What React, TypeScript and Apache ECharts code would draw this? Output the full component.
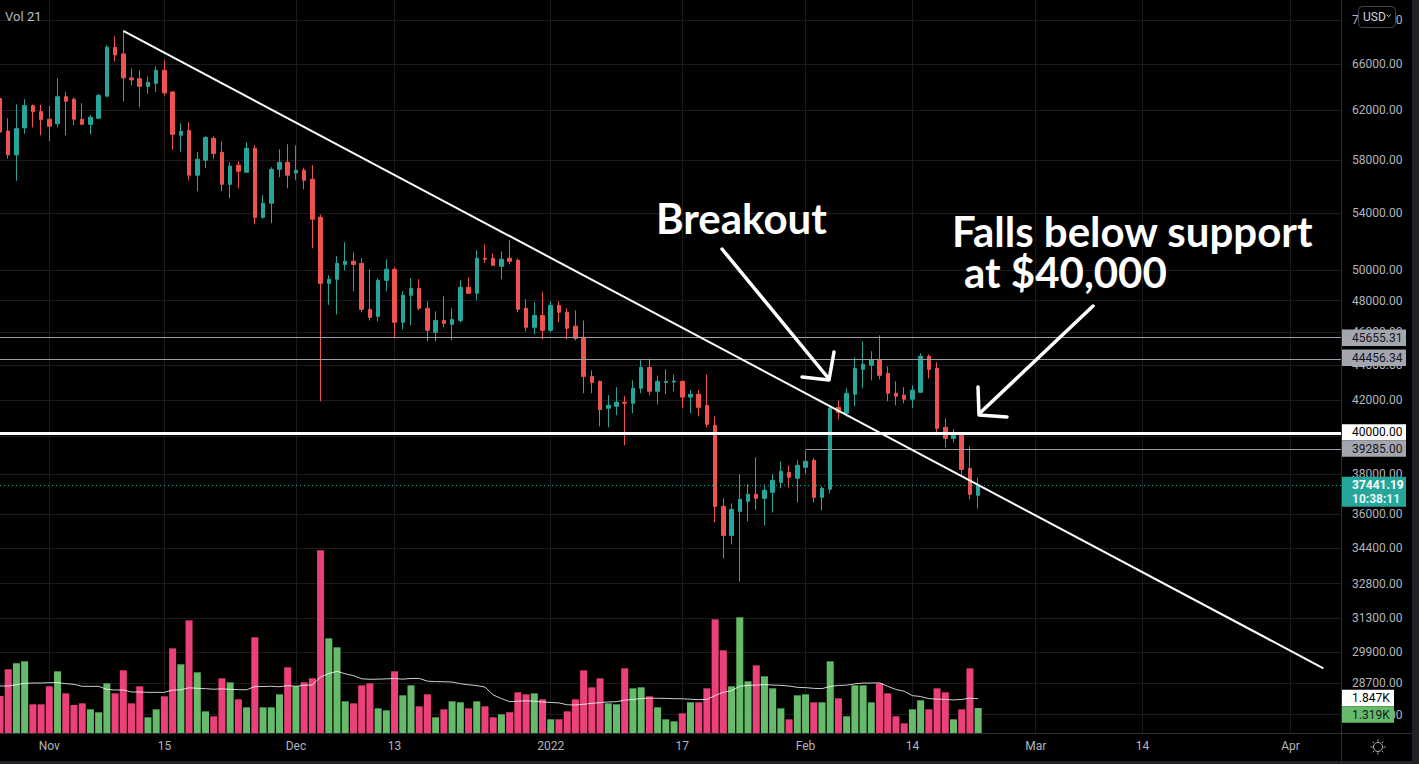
import React, { useEffect, useRef } from 'react';
import * as echarts from 'echarts';

// ---------------- DATA ----------------
const DATES = [
  '2021-10-26','2021-10-27','2021-10-28','2021-10-29','2021-10-30','2021-10-31',
  '2021-11-01','2021-11-02','2021-11-03','2021-11-04','2021-11-05','2021-11-06','2021-11-07','2021-11-08','2021-11-09','2021-11-10',
  '2021-11-11','2021-11-12','2021-11-13','2021-11-14','2021-11-15','2021-11-16','2021-11-17','2021-11-18','2021-11-19','2021-11-20',
  '2021-11-21','2021-11-22','2021-11-23','2021-11-24','2021-11-25','2021-11-26','2021-11-27','2021-11-28','2021-11-29','2021-11-30',
  '2021-12-01','2021-12-02','2021-12-03','2021-12-04','2021-12-05','2021-12-06','2021-12-07','2021-12-08','2021-12-09','2021-12-10',
  '2021-12-11','2021-12-12','2021-12-13','2021-12-14','2021-12-15','2021-12-16','2021-12-17','2021-12-18','2021-12-19','2021-12-20',
  '2021-12-21','2021-12-22','2021-12-23','2021-12-24','2021-12-25','2021-12-26','2021-12-27','2021-12-28','2021-12-29','2021-12-30','2021-12-31',
  '2022-01-01','2022-01-02','2022-01-03','2022-01-04','2022-01-05','2022-01-06','2022-01-07','2022-01-08','2022-01-09','2022-01-10',
  '2022-01-11','2022-01-12','2022-01-13','2022-01-14','2022-01-15','2022-01-16','2022-01-17','2022-01-18','2022-01-19','2022-01-20',
  '2022-01-21','2022-01-22','2022-01-23','2022-01-24','2022-01-25','2022-01-26','2022-01-27','2022-01-28','2022-01-29','2022-01-30','2022-01-31',
  '2022-02-01','2022-02-02','2022-02-03','2022-02-04','2022-02-05','2022-02-06','2022-02-07','2022-02-08','2022-02-09','2022-02-10',
  '2022-02-11','2022-02-12','2022-02-13','2022-02-14','2022-02-15','2022-02-16','2022-02-17','2022-02-18','2022-02-19','2022-02-20','2022-02-21','2022-02-22',
];

const OPEN = [
  63000,60300,58400,60560,62400,61900,
  61270,60900,63150,62940,61270,60850,61350,63200,67500,66900,
  64770,64700,64040,64300,65440,63560,59960,60360,56830,57980,
  59720,58600,56130,57600,57050,58920,53690,54720,57280,57820,
  57000,57210,56520,53700,49130,49400,50400,50610,50470,47440,
  47000,49330,50070,46620,48350,48800,47510,46000,46740,46500,
  46740,48870,48480,50820,50820,50270,50820,50680,47510,46310,47050,
  46120,47700,47250,46380,45690,43350,43060,41530,41640,41870,
  41810,42660,43880,42490,43000,43020,43060,42160,42320,41690,
  40590,36390,35000,36150,36640,36990,36790,37090,37590,38100,37800,
  38360,38720,36840,37240,41580,41250,42320,43760,44000,44350,
  43520,42380,42270,42040,42430,44540,43820,40480,39880,40050,38300,36940,
];
const CLOSE = [
  60220,58400,60500,62400,61900,61250,
  60700,63150,62770,61270,60850,61430,63250,67500,66800,64770,
  64600,64040,64390,65440,63480,60040,60280,56830,58060,59790,
  58500,56130,57520,57130,58920,53690,54720,57280,57820,56830,
  57210,56440,53560,49130,49400,50470,50610,50400,47440,46930,
  49330,50070,46620,48350,48800,47510,46120,46740,46560,46800,
  48870,48480,50820,50750,50340,50750,50610,47440,46310,47050,46120,
  47700,47250,46250,45630,43350,43000,41450,41690,41870,41810,
  42660,43880,42490,43060,43060,43080,42160,42320,41580,40640,
  36390,35000,36250,36740,36990,36790,37190,37690,38150,37850,38460,
  38670,36840,37290,41530,41300,42380,43820,44060,44350,43410,
  42380,42210,42040,42550,44540,43760,40420,39880,40050,38250,36990,37441.19,
];
const HIGH = [
  63300,61350,62500,62940,62500,62480,
  62400,64740,63560,63100,62600,61620,63400,67700,68500,69000,
  65610,65440,64900,65790,66320,63620,60940,61020,58650,59880,
  59880,59480,57820,57900,59400,59160,55310,57440,58840,59240,
  59160,57400,57600,53900,49660,50960,51920,51220,50820,50070,
  49470,50750,50200,48610,49470,49400,47960,47310,48280,47510,
  49330,49540,51360,51780,51150,51290,52060,50800,48090,47900,48550,
  47960,47960,47510,47380,46740,43700,43100,42270,42720,42210,
  43120,44300,44410,43400,43760,43460,43100,42550,42550,43460,
  41080,36790,36540,38000,37490,38880,37490,38000,38670,38460,38720,
  39240,38830,37390,41700,41980,42660,44470,45440,44840,45810,
  43940,43060,42720,42830,44720,44660,44180,40970,40370,40090,39450,37840,
];
const LOW = [
  59900,58100,56400,60100,60600,59960,
  59480,60600,59960,60780,60780,60040,61270,63150,66230,62770,
  64130,62270,63400,63560,63220,58810,58650,56440,55610,57360,
  58100,55610,55090,55830,57050,53190,53600,53260,56670,55830,
  56440,55760,51500,41920,47730,47110,50000,48610,47250,46740,
  46680,48610,45630,46190,46430,47380,45440,45440,46310,45500,
  46620,48420,48030,50500,50300,49400,50400,47250,46060,45880,45570,
  46000,46620,45570,45500,42380,42380,40530,40480,41140,39510,
  41250,42380,42270,41750,42320,42490,41530,41250,41080,40480,
  35620,33930,34580,32900,35670,36240,35480,36100,37290,37340,36590,
  38000,36590,36200,37040,40910,41080,41640,42660,43120,43170,
  41920,41700,41810,41530,42430,43230,40050,39400,39660,37940,36740,36290,
];
const VOLUME = [
  1954,3363,3680,3784,1514,1514,
  2464,3256,2094,1478,1566,1250,1091,2622,2094,3309,
  1566,2464,827,1250,1936,4470,3626,5949,3203,1144,
  880,2886,2675,1778,1355,5051,1355,1355,2042,3467,
  2464,2675,2886,9645,4998,4523,1672,1566,2516,2622,
  1302,1197,3256,1989,2516,1408,2042,827,1250,1672,
  1619,1302,1672,1408,827,985,1091,2148,2042,2094,1778,
  722,722,1144,1778,3309,2411,2886,1566,1514,3414,
  2358,2411,1936,1355,722,616,1038,1619,1619,2358,
  6000,4365,2464,6107,2728,3573,2992,2358,1302,722,1989,
  2042,1619,1619,3784,1830,880,2516,2516,1619,2622,
  2094,880,510,1250,1725,1250,2358,2148,722,1250,3414,1319,
];
// Vol MA(21) values for the first days (earlier volumes are off-screen)
const MA_HEAD = [2482,2482,2552,2622,2640,2640,2658,2658,2605,2570,2464,2464,2464,2306,2270,2270,2165,2165,2147,2147];
const MA_LENGTH = 21;

const X_TICK_DATES = ['2021-11-01','2021-11-15','2021-12-01','2021-12-13','2022-01-01','2022-01-17','2022-02-01','2022-02-14','2022-03-01','2022-03-14','2022-04-01'];
const X_TICK_LABELS = ['Nov','15','Dec','13','2022','17','Feb','14','Mar','14','Apr'];
// grid levels of the price scale; the 40000 label itself is hidden behind its price tag
const PRICE_TICKS = [70000,66000,62000,58000,54000,50000,48000,46000,44000,42000,40000,38000,36000,34400,32800,31300,29900,28700,27500];
const PRICE_LABEL_TICKS = [70000,66000,62000,58000,54000,50000,48000,46000,44000,42000,38000,36000,34400,32800,31300,29900,28700,27500];

const LEVEL_HIGH_1 = 45655.31;
const LEVEL_HIGH_2 = 44456.34;
const SUPPORT = 40000;
const LEVEL_LOW = 39285;
const LEVEL_LOW_START = '2022-02-01';
const LAST_PRICE = 37441.19;
const LAST_TIME = '10:38:11';
const VOL_MA_LABEL = 1847;
const VOL_LAST_LABEL = 1319;
const TREND_START = { date: '2021-11-10', price: 69000 };
const TREND_END = { date: '2022-04-05', price: 29270 };

// ---------------- helpers / styling ----------------
const EPOCH = Date.UTC(2021, 10, 1);
const dayIndex = (s: string) => {
  const [y, m, d] = s.split('-').map(Number);
  return Math.round((Date.UTC(y, m - 1, d) - EPOCH) / 86400000);
};
const ln = Math.log;

const X_MIN = -6;
const X_MAX = 157.14;
const PRICE_AXIS_MIN = 26830;
const PRICE_AXIS_MAX = 71930;
const VOL_AXIS_MAX = 38700;

const UP = '#26a69a';
const DOWN = '#ef5350';
const VOL_UP = '#66bb6a';
const VOL_DOWN = '#ec407a';
const GRID = '#1b1b1f';
const AXIS_TEXT = '#b2b5be';
const BORDER = '#2e2e34';
const FONT = 'Roboto, "Liberation Sans", sans-serif';
const ANNO_FONT = 'bold 42px Lato, "Open Sans", sans-serif';

function buildOption() {
  const xTickVals = X_TICK_DATES.map(dayIndex);
  const candles = DATES.map((s, i) => [dayIndex(s), ln(OPEN[i]), ln(CLOSE[i]), ln(LOW[i]), ln(HIGH[i])]);
  const volumes = DATES.map((s, i) => ({
    value: [dayIndex(s), VOLUME[i]],
    itemStyle: { color: CLOSE[i] >= OPEN[i] ? VOL_UP : VOL_DOWN },
  }));
  const ma = DATES.map((s, i) => {
    if (i < MA_HEAD.length) return [dayIndex(s), MA_HEAD[i]];
    const win = VOLUME.slice(i - MA_LENGTH + 1, i + 1);
    return [dayIndex(s), win.reduce((a, b) => a + b, 0) / win.length];
  });
  const grayLine = { color: '#9a9da5', width: 1, type: 'solid' };

  return {
    animation: false,
    backgroundColor: '#000',
    grid: { left: 0, right: 78, top: 0, bottom: 31, containLabel: false, outerBoundsMode: 'none' },
    xAxis: {
      type: 'value', min: X_MIN, max: X_MAX,
      axisLine: { show: false },
      axisTick: { show: false, customValues: xTickVals },
      axisLabel: {
        customValues: xTickVals,
        formatter: (v: number) => X_TICK_LABELS[xTickVals.indexOf(Math.round(v))] ?? '',
        color: AXIS_TEXT, fontSize: 12, fontFamily: FONT, margin: 7,
      },
      splitLine: { show: true, lineStyle: { color: GRID, width: 1 } },
    },
    yAxis: [
      {
        type: 'value', position: 'right', min: ln(PRICE_AXIS_MIN), max: ln(PRICE_AXIS_MAX),
        axisLine: { show: false },
        axisTick: { show: false, customValues: PRICE_TICKS.map(ln) },
        axisLabel: {
          customValues: PRICE_LABEL_TICKS.map(ln),
          formatter: (v: number) => (Math.round(Math.exp(v) / 100) * 100).toFixed(2),
          color: AXIS_TEXT, fontSize: 12, fontFamily: FONT, margin: 11,
        },
        splitLine: { show: true, lineStyle: { color: GRID, width: 1 } },
      },
      { type: 'value', min: 0, max: VOL_AXIS_MAX, show: false, splitLine: { show: false } },
    ],
    series: [
      {
        type: 'bar', name: 'Volume', yAxisIndex: 1, data: volumes, barWidth: 7, z: 1, silent: true,
      },
      {
        type: 'line', name: 'Vol MA', yAxisIndex: 1, data: ma, symbol: 'none', z: 2, silent: true,
        lineStyle: { color: 'rgba(255,255,255,0.8)', width: 1 },
      },
      {
        type: 'candlestick', name: 'BTCUSD', yAxisIndex: 0, data: candles, encode: { x: 0, y: [1, 2, 3, 4] },
        barWidth: 4, z: 3, silent: true,
        itemStyle: { color: UP, color0: DOWN, borderColor: UP, borderColor0: DOWN, borderWidth: 1 },
        markLine: {
          silent: true, symbol: ['none', 'none'], label: { show: false }, animation: false,
          data: [
            { yAxis: ln(LEVEL_HIGH_1), lineStyle: grayLine },
            { yAxis: ln(LEVEL_HIGH_2), lineStyle: grayLine },
            [
              { coord: [dayIndex(LEVEL_LOW_START), ln(LEVEL_LOW)], lineStyle: grayLine },
              { coord: [X_MAX, ln(LEVEL_LOW)] },
            ],
            { yAxis: ln(SUPPORT), lineStyle: { color: '#ffffff', width: 3, type: 'solid' } },
            { yAxis: ln(LAST_PRICE), lineStyle: { color: UP, width: 1, type: [1, 3] } },
            [
              { coord: [dayIndex(TREND_START.date), ln(TREND_START.price)], lineStyle: { color: '#ffffff', width: 2, type: 'solid' } },
              { coord: [dayIndex(TREND_END.date), ln(TREND_END.price)] },
            ],
          ],
        },
      },
    ],
  };
}

function tag(x: number, yc: number, w: number, h: number, text: string, bg: string, fg: string, bold = false) {
  return [
    { type: 'rect', z: 50, shape: { x, y: yc - h / 2, width: w, height: h }, style: { fill: bg } },
    {
      type: 'text', z: 51, x: x + 10, y: yc,
      style: { text, fill: fg, font: `${bold ? 'bold ' : ''}12px ${FONT}`, align: 'left', verticalAlign: 'middle', textAlign: 'left', textVerticalAlign: 'middle' },
    },
  ];
}

function buildGraphics(chart: any) {
  const py = (p: number) => chart.convertToPixel({ yAxisIndex: 0 }, ln(p)) as number;
  const vy = (v: number) => chart.convertToPixel({ yAxisIndex: 1 }, v) as number;
  const white = '#ffffff';
  const arrowStyle = { stroke: white, lineWidth: 3.5, lineCap: 'round', lineJoin: 'round', fill: null };
  const els: any[] = [];

  // frame
  els.push({ type: 'rect', z: 40, shape: { x: 1412, y: 0, width: 7, height: 764 }, style: { fill: '#222226' } });
  els.push({ type: 'rect', z: 40, shape: { x: 0, y: 761, width: 1419, height: 3 }, style: { fill: '#222226' } });
  els.push({ type: 'line', z: 40, shape: { x1: 0, y1: 733.5, x2: 1412, y2: 733.5 }, style: { stroke: BORDER, lineWidth: 1 } });
  els.push({ type: 'line', z: 40, shape: { x1: 1341.5, y1: 0, x2: 1341.5, y2: 761 }, style: { stroke: BORDER, lineWidth: 1 } });

  // USD button
  els.push({ type: 'rect', z: 60, shape: { x: 1358.5, y: 6.5, width: 37, height: 21, r: 4 }, style: { fill: '#000', stroke: '#434651', lineWidth: 1 } });
  els.push({ type: 'text', z: 61, x: 1363, y: 17, style: { text: 'USD', fill: '#d1d4dc', font: `12px ${FONT}`, align: 'left', verticalAlign: 'middle', textAlign: 'left', textVerticalAlign: 'middle' } });
  els.push({ type: 'polyline', z: 61, shape: { points: [[1386.5, 14.5], [1388.7, 16.7], [1390.9, 14.5]] }, style: { stroke: '#d1d4dc', lineWidth: 1, fill: null } });

  // Vol 21 legend
  els.push({ type: 'text', z: 61, x: 5, y: 16, style: { text: 'Vol', fill: AXIS_TEXT, font: `13px ${FONT}`, align: 'left', verticalAlign: 'middle', textAlign: 'left', textVerticalAlign: 'middle' } });
  els.push({ type: 'text', z: 61, x: 27, y: 16, style: { text: '21', fill: '#b8c4d6', font: `13px ${FONT}`, align: 'left', verticalAlign: 'middle', textAlign: 'left', textVerticalAlign: 'middle' } });

  // settings icon
  const cx = 1378, cy = 747;
  els.push({ type: 'circle', z: 61, shape: { cx, cy, r: 4.5 }, style: { fill: null, stroke: AXIS_TEXT, lineWidth: 1 } });
  for (let k = 0; k < 8; k++) {
    const a = (k * Math.PI) / 4;
    els.push({ type: 'line', z: 61, shape: { x1: cx + Math.cos(a) * 5.5, y1: cy + Math.sin(a) * 5.5, x2: cx + Math.cos(a) * 7.5, y2: cy + Math.sin(a) * 7.5 }, style: { stroke: AXIS_TEXT, lineWidth: 1 } });
  }

  // annotations
  const txt = (x: number, y: number, text: string) => ({
    type: 'text', z: 70, x, y,
    style: { text, fill: white, font: ANNO_FONT, align: 'left', verticalAlign: 'middle', textAlign: 'left', textVerticalAlign: 'middle' },
  });
  els.push(txt(656, 218, 'Breakout'));
  els.push(txt(952, 231, 'Falls below support'));
  els.push(txt(964, 272, 'at $40,000'));
  els.push({ type: 'polyline', z: 70, shape: { points: [[722, 249], [829, 379]] }, style: arrowStyle });
  els.push({ type: 'polyline', z: 70, shape: { points: [[802, 377], [829, 380], [834, 352]] }, style: arrowStyle });
  els.push({ type: 'polyline', z: 70, shape: { points: [[1093, 306], [980, 413]] }, style: arrowStyle });
  els.push({ type: 'polyline', z: 70, shape: { points: [[978, 387], [979, 415], [1007, 417]] }, style: arrowStyle });

  // price tags on the right axis
  const GRAY_TAG = '#a3a6af';
  const DARK = '#131722';
  els.push(...tag(1342, py(LEVEL_HIGH_1), 64, 16.5, LEVEL_HIGH_1.toFixed(2), GRAY_TAG, DARK));
  els.push(...tag(1342, py(LEVEL_HIGH_2), 64, 16.5, LEVEL_HIGH_2.toFixed(2), GRAY_TAG, DARK));
  els.push(...tag(1342, py(SUPPORT) - 4, 64, 16, SUPPORT.toFixed(2), '#ffffff', '#000000'));
  els.push(...tag(1342, py(LEVEL_LOW) - 1, 64, 16.5, LEVEL_LOW.toFixed(2), GRAY_TAG, DARK));
  const lastY = py(LAST_PRICE);
  els.push({ type: 'rect', z: 50, shape: { x: 1342, y: lastY - 8.5, width: 64, height: 30 }, style: { fill: UP } });
  els.push({ type: 'text', z: 51, x: 1352, y: lastY, style: { text: LAST_PRICE.toFixed(2), fill: '#fff', font: `bold 12px ${FONT}`, align: 'left', verticalAlign: 'middle', textAlign: 'left', textVerticalAlign: 'middle' } });
  els.push({ type: 'text', z: 51, x: 1352, y: lastY + 14, style: { text: LAST_TIME, fill: '#e8f5f3', font: `bold 12px ${FONT}`, align: 'left', verticalAlign: 'middle', textAlign: 'left', textVerticalAlign: 'middle' } });
  const maY = vy(VOL_MA_LABEL);
  els.push(...tag(1342, maY, 52, 16.5, (VOL_MA_LABEL / 1000).toFixed(3) + 'K', '#ffffff', '#000000'));
  els.push(...tag(1342, maY + 16.5, 52, 16.5, (VOL_LAST_LABEL / 1000).toFixed(3) + 'K', VOL_UP, DARK));

  return els;
}

export default function App() {
  const ref = useRef<HTMLDivElement>(null);
  useEffect(() => {
    document.body.style.margin = '0';
    document.body.style.background = '#000';
    const chart = echarts.init(ref.current as HTMLDivElement, undefined, { renderer: 'svg' });
    chart.setOption(buildOption() as any);
    chart.setOption({ graphic: { elements: buildGraphics(chart) } } as any);
    return () => chart.dispose();
  }, []);
  return (
    <div
      ref={ref}
      style={{ position: 'fixed', left: 0, top: 0, width: 1419, height: 764, background: '#000' }}
    />
  );
}
